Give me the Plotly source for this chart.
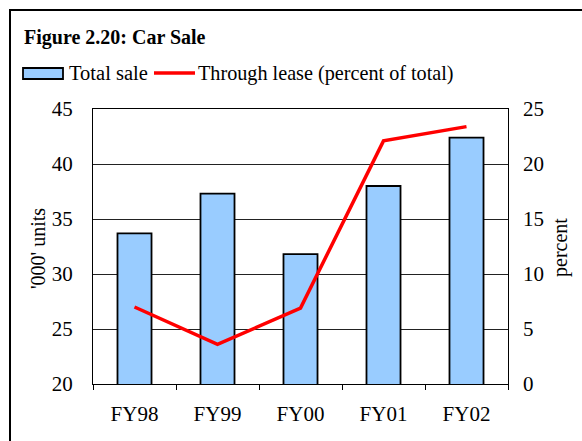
import plotly.graph_objects as go

categories = ["FY98", "FY99", "FY00", "FY01", "FY02"]
total_sale = [33.7, 37.3, 31.8, 38.0, 42.4]
lease_pct = [7.0, 3.6, 6.9, 22.1, 23.4]

FONT = "Liberation Serif, Times New Roman, serif"

# plot area in pixels
L, R, T, B = 93, 508, 109, 384
W, H = 582, 441
PW, PH = R - L, B - T

def px(x):
    return (x - L) / PW

def py(y):
    return (B - y) / PH

TICKFONT = dict(size=21, family=FONT, color="black")

fig = go.Figure()
fig.add_trace(go.Bar(
    x=categories, y=total_sale, name="Total sale",
    marker=dict(color="#99CCFF", line=dict(color="black", width=1.8)),
    showlegend=False,
))
fig.add_trace(go.Scatter(
    x=categories, y=lease_pct, name="Through lease (percent of total)",
    mode="lines", line=dict(color="#FF0000", width=3.5),
    yaxis="y2", showlegend=False,
))

fig.update_layout(
    width=W, height=H,
    margin=dict(l=L, r=W - R, t=T, b=H - B, pad=0),
    paper_bgcolor="white", plot_bgcolor="white",
    font=dict(family=FONT, size=20, color="black"),
    bargap=0.59,
    xaxis=dict(
        type="category", tickson="boundaries", ticks="outside", ticklen=5,
        tickcolor="black", tickwidth=1,
        showline=True, linecolor="black", linewidth=1, mirror=True,
        showgrid=False, tickfont=TICKFONT, ticklabelstandoff=11,
    ),
    yaxis=dict(
        range=[20, 45], dtick=5, showgrid=True, gridcolor="#222", gridwidth=1,
        showline=True, linecolor="black", linewidth=1, mirror=True,
        ticks="", ticklabelstandoff=15, tickfont=TICKFONT, zeroline=False,
    ),
    yaxis2=dict(
        range=[0, 25], dtick=5, overlaying="y", side="right", showgrid=False,
        showline=False, ticks="", ticklabelstandoff=14, tickfont=TICKFONT,
        zeroline=False,
    ),
    shapes=[
        # outer frame (cut off at right and bottom)
        dict(type="rect", xref="paper", yref="paper",
             x0=px(10), x1=px(600), y0=py(460), y1=py(10),
             line=dict(color="black", width=2), fillcolor="rgba(0,0,0,0)"),
        # legend: bar swatch
        dict(type="rect", xref="paper", yref="paper",
             x0=px(23), x1=px(63), y0=py(79), y1=py(68),
             line=dict(color="black", width=1.8), fillcolor="#99CCFF"),
        # legend: line swatch
        dict(type="line", xref="paper", yref="paper",
             x0=px(154), x1=px(195), y0=py(73), y1=py(73),
             line=dict(color="#FF0000", width=3.5)),
    ],
    annotations=[
        dict(text="<b>Figure 2.20: Car Sale</b>", xref="paper", yref="paper",
             x=px(22), y=py(38), xanchor="left", yanchor="middle",
             showarrow=False, font=dict(size=20, family=FONT)),
        dict(text="Total sale", xref="paper", yref="paper",
             x=px(67), y=py(73), xanchor="left", yanchor="middle",
             showarrow=False, font=dict(size=20.5, family=FONT)),
        dict(text="Through lease (percent of total)", xref="paper", yref="paper",
             x=px(196), y=py(73), xanchor="left", yanchor="middle",
             showarrow=False, font=dict(size=20.2, family=FONT)),
        dict(text="'000' units", xref="paper", yref="paper",
             x=px(38), y=py(248), xanchor="center", yanchor="middle",
             textangle=-90, showarrow=False, font=dict(size=20, family=FONT)),
        dict(text="percent", xref="paper", yref="paper",
             x=px(561), y=py(248), xanchor="center", yanchor="middle",
             textangle=-90, showarrow=False, font=dict(size=20, family=FONT)),
    ],
)

fig.write_html("out.html", config={"displayModeBar": False},
               post_script="document.body.style.margin='0';")
